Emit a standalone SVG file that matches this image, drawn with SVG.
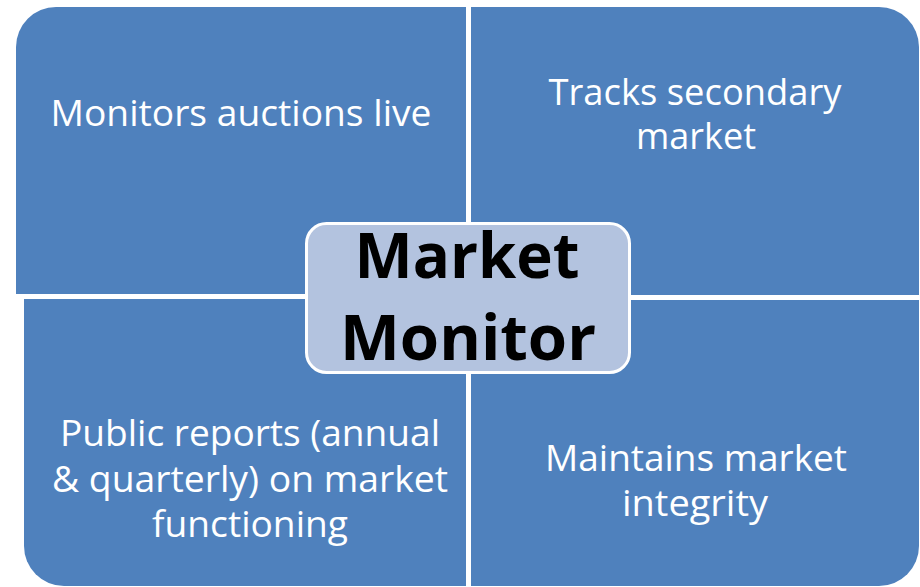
<svg xmlns="http://www.w3.org/2000/svg" width="920" height="587" viewBox="0 0 920 587">
  <style>
    .quad { fill: #4F81BD; }
    .lbl { fill: #FFFFFF; font-family: "Open Sans", "Noto Sans", "Liberation Sans", sans-serif; font-size: 37px; text-anchor: middle; }
    .center { fill: #B3C3DF; stroke: #FFFFFF; stroke-width: 3; }
    .ctr { fill: #000000; font-family: "Open Sans", "Noto Sans", "Liberation Sans", sans-serif; font-weight: bold; font-size: 62px; text-anchor: middle; }
  </style>
  <rect width="920" height="587" fill="#FFFFFF"/>
  <g id="node-monitors-auctions">
    <path class="quad" d="M16,47 A40,40 0 0 1 56,7 H466 V294 H16 Z"/>
    <text class="lbl" x="241" y="126" textLength="381" lengthAdjust="spacingAndGlyphs">Monitors auctions live</text>
  </g>
  <g id="node-tracks-secondary">
    <path class="quad" d="M471,7 H879 A40,40 0 0 1 919,47 V295 H471 Z"/>
    <text class="lbl" x="695" y="105" textLength="293" lengthAdjust="spacingAndGlyphs">Tracks secondary</text>
    <text class="lbl" x="696" y="149" textLength="120" lengthAdjust="spacingAndGlyphs">market</text>
  </g>
  <g id="node-public-reports">
    <path class="quad" d="M24,299 H466 V586 H64 A40,40 0 0 1 24,546 Z"/>
    <text class="lbl" x="250" y="446" textLength="380" lengthAdjust="spacingAndGlyphs">Public reports (annual</text>
    <text class="lbl" x="250" y="492" textLength="396" lengthAdjust="spacingAndGlyphs">&amp; quarterly) on market</text>
    <text class="lbl" x="250" y="537" textLength="196" lengthAdjust="spacingAndGlyphs">functioning</text>
  </g>
  <g id="node-maintains-integrity">
    <path class="quad" d="M471,300 H919 V546 A40,40 0 0 1 879,586 H471 Z"/>
    <text class="lbl" x="696" y="471" textLength="302" lengthAdjust="spacingAndGlyphs">Maintains market</text>
    <text class="lbl" x="695" y="516" textLength="146" lengthAdjust="spacingAndGlyphs">integrity</text>
  </g>
  <g id="node-market-monitor">
    <rect class="center" x="306.5" y="223.5" width="323" height="149" rx="20" ry="20"/>
    <text class="ctr" x="467" y="278" textLength="225" lengthAdjust="spacingAndGlyphs">Market</text>
    <text class="ctr" x="468" y="360" textLength="256" lengthAdjust="spacingAndGlyphs">Monitor</text>
  </g>
</svg>
